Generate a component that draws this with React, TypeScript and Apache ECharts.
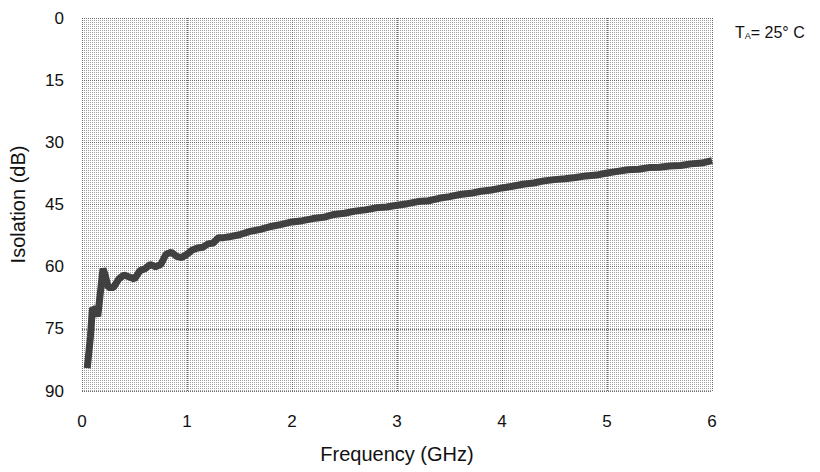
import React, { useEffect, useRef } from "react";
import * as echarts from "echarts";

const freqGHz = [
  0.05, 0.08, 0.1, 0.13, 0.15, 0.2, 0.22, 0.25, 0.3, 0.35, 0.4, 0.45, 0.5, 0.55, 0.6, 0.65, 0.7, 0.75,
  0.8, 0.85, 0.9, 0.95, 1.0, 1.05, 1.1, 1.15, 1.2, 1.25, 1.3, 1.35, 1.4, 1.5, 1.6, 1.7, 1.8, 1.9,
  2.0, 2.1, 2.2, 2.3, 2.4, 2.5, 2.6, 2.7, 2.8, 2.9, 3.0, 3.1, 3.2, 3.3, 3.4, 3.5, 3.6, 3.7, 3.8, 3.9,
  4.0, 4.1, 4.2, 4.3, 4.4, 4.5, 4.6, 4.7, 4.8, 4.9, 5.0, 5.1, 5.2, 5.3, 5.4, 5.5, 5.6, 5.7, 5.8, 5.9, 6.0,
];
const isolationDb = [
  84.5, 77, 70, 70.5, 72, 60.5, 62, 65, 65, 63, 62, 62.5, 63, 61, 60.5, 59.5, 60, 59.5,
  57, 56.5, 57.5, 57.8, 57, 56, 55.5, 55.3, 54.5, 54.3, 53, 53, 52.8, 52.3, 51.5, 51, 50.3, 49.8,
  49.2, 48.9, 48.4, 48.1, 47.4, 47.1, 46.6, 46.3, 45.8, 45.6, 45.2, 44.8, 44.3, 44.1, 43.5, 43.1, 42.6, 42.3, 41.8, 41.5,
  41.0, 40.6, 40.1, 39.8, 39.3, 39.0, 38.8, 38.5, 38.1, 37.9, 37.4, 37.0, 36.6, 36.5, 36.1, 36.0, 35.7, 35.6, 35.2, 35.0, 34.4,
];
const xTicks = { min: 0, max: 6, interval: 1 };
const yTicks = { min: 0, max: 90, interval: 15 };

const FONT = "Liberation Sans";

export default function App() {
  const ref = useRef<HTMLDivElement>(null);
  useEffect(() => {
    if (!ref.current) return;
    document.body.style.margin = "0";
    const chart = echarts.init(ref.current, null, { renderer: "svg" });
    const cv = document.createElement("canvas");
    cv.width = 2;
    cv.height = 2;
    const ctx = cv.getContext("2d");
    if (ctx) {
      ctx.fillStyle = "#ffffff";
      ctx.fillRect(0, 0, 2, 2);
      ctx.fillStyle = "#a0a0a0";
      ctx.fillRect(0, 0, 1, 1);
    }
    const data = freqGHz.map((f, i) => [f, isolationDb[i]]);
    chart.setOption({
      animation: false,
      backgroundColor: "#ffffff",
      grid: {
        left: 82,
        right: 108,
        top: 18,
        bottom: 81,
        show: true,
        backgroundColor: { image: cv, repeat: "repeat" } as any,
        borderWidth: 0,
      },
      xAxis: {
        type: "value",
        min: xTicks.min,
        max: xTicks.max,
        interval: xTicks.interval,
        name: "Frequency (GHz)",
        nameLocation: "middle",
        nameGap: 53,
        nameTextStyle: { fontFamily: FONT, fontSize: 20, color: "#111" },
        axisLine: { show: false },
        axisTick: { show: false },
        axisLabel: { fontFamily: FONT, fontSize: 17, color: "#111", margin: 22 },
        splitLine: { show: true, lineStyle: { type: "dotted", color: "#6a6a6a", width: 1 } },
      },
      yAxis: {
        type: "value",
        inverse: true,
        min: yTicks.min,
        max: yTicks.max,
        interval: yTicks.interval,
        name: "Isolation (dB)",
        nameLocation: "middle",
        nameGap: 54,
        nameTextStyle: { fontFamily: FONT, fontSize: 20, color: "#111" },
        axisLine: { show: false },
        axisTick: { show: false },
        axisLabel: { fontFamily: FONT, fontSize: 17, color: "#111", margin: 18 },
        splitLine: { show: true, lineStyle: { type: "dotted", color: "#6a6a6a", width: 1 } },
      },
      graphic: [
        {
          type: "text",
          left: 735,
          top: 24,
          style: {
            text: "T{s|A}= 25° C",
            fontFamily: FONT,
            fontSize: 16,
            fill: "#111",
            rich: { s: { fontSize: 9, fontFamily: FONT, verticalAlign: "bottom", padding: [8, 0, 0, 0] } },
          } as any,
        },
      ],
      series: [
        {
          type: "line",
          data,
          showSymbol: false,
          symbol: "none",
          lineStyle: { color: "#404040", width: 7 },
          z: 3,
        },
      ],
    });
    return () => chart.dispose();
  }, []);
  return <div ref={ref} style={{ width: 820, height: 472 }} />;
}
